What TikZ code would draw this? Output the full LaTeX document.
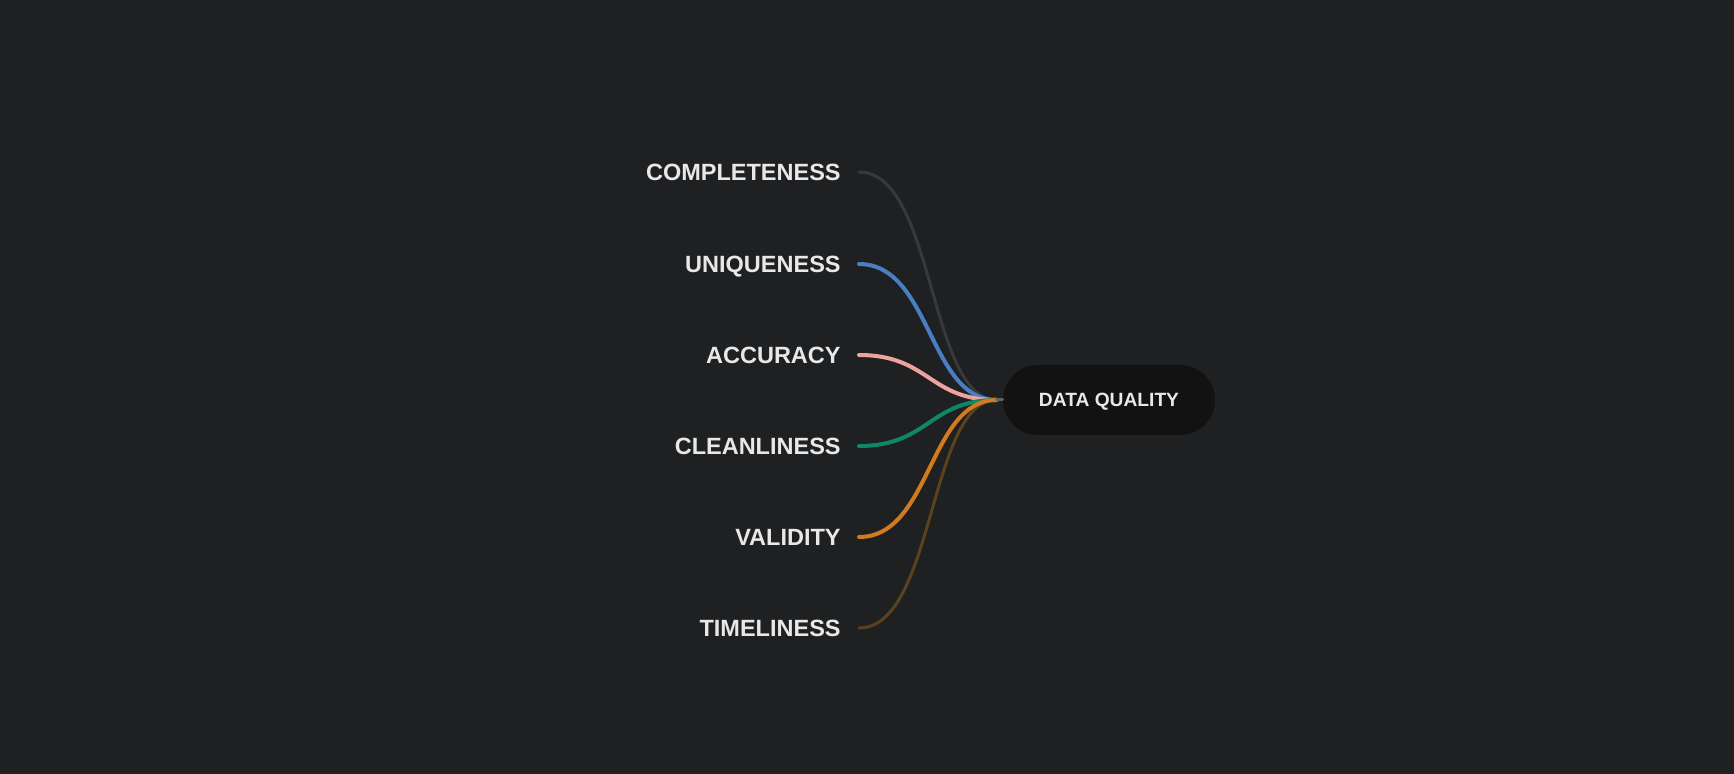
\documentclass[tikz,border=0pt]{standalone}
\usepackage{fontspec}
\setmainfont{Liberation Sans}
\usepackage{tikz}
\usetikzlibrary{positioning}

\definecolor{bgdark}{HTML}{1F2022}
\definecolor{pilldark}{HTML}{121212}
\definecolor{txtlight}{HTML}{E8E8E8}
\definecolor{cgrey}{HTML}{38393B}
\definecolor{cblue}{HTML}{4A7EC2}
\definecolor{cpink}{HTML}{EFA3A0}
\definecolor{cgreen}{HTML}{0E8767}
\definecolor{corange}{HTML}{D47A1E}
\definecolor{cbrown}{HTML}{5A421F}

\begin{document}
\begin{tikzpicture}[x=0.5pt, y=-0.5pt,
    lbl/.style = {anchor=east, inner sep=0pt, text=txtlight,
                  font=\fontsize{11.75}{14}\selectfont\bfseries,
                  text height=8.4pt, text depth=0pt},
    pill/.style = {fill=pilldark, rounded corners=17.5pt, minimum width=106pt,
                   minimum height=35pt, inner sep=0pt, text=txtlight,
                   font=\fontsize{9.6}{12}\selectfont\bfseries,
                   text height=6.9pt, text depth=0pt},
    branch/.style = {line width=2pt, line cap=round},
    faint/.style = {line width=1.5pt, line cap=round}]
    % background
    \fill[bgdark] (0,0) rectangle (1734,774);
    % root
    \node[pill] (dq) at (1109,400) {DATA QUALITY};
    \coordinate (hub) at ([xshift=-3pt]dq.west);
    % leaves
    \node[lbl] (cmp) at (841,172) {COMPLETENESS};
    \node[lbl] (unq) at (841,264) {UNIQUENESS};
    \node[lbl] (acc) at (841,355) {ACCURACY};
    \node[lbl] (cln) at (841,446) {CLEANLINESS};
    \node[lbl] (val) at (841,537) {VALIDITY};
    \node[lbl] (tml) at (841,628) {TIMELINESS};
    % branches
    \draw[faint, cgrey] ([xshift=9pt]cmp.east) .. controls +(38pt,0) and +(-34pt,0) .. (hub);
    \draw[faint, cbrown] ([xshift=9pt]tml.east) .. controls +(38pt,0) and +(-34pt,0) .. (hub);
    \draw[branch, cblue] ([xshift=9pt]unq.east) .. controls +(36pt,0) and +(-34pt,0) .. (hub);
    \draw[branch, cpink] ([xshift=9pt]acc.east) .. controls +(35pt,0) and +(-34pt,0) .. (hub);
    \draw[branch, cgreen] ([xshift=9pt]cln.east) .. controls +(35pt,0) and +(-34pt,0) .. (hub);
    \draw[branch, corange] ([xshift=9pt]val.east) .. controls +(36pt,0) and +(-34pt,0) .. (hub);
    \draw[faint, cgrey!80!white] (hub) -- (dq.west);
\end{tikzpicture}
\end{document}
